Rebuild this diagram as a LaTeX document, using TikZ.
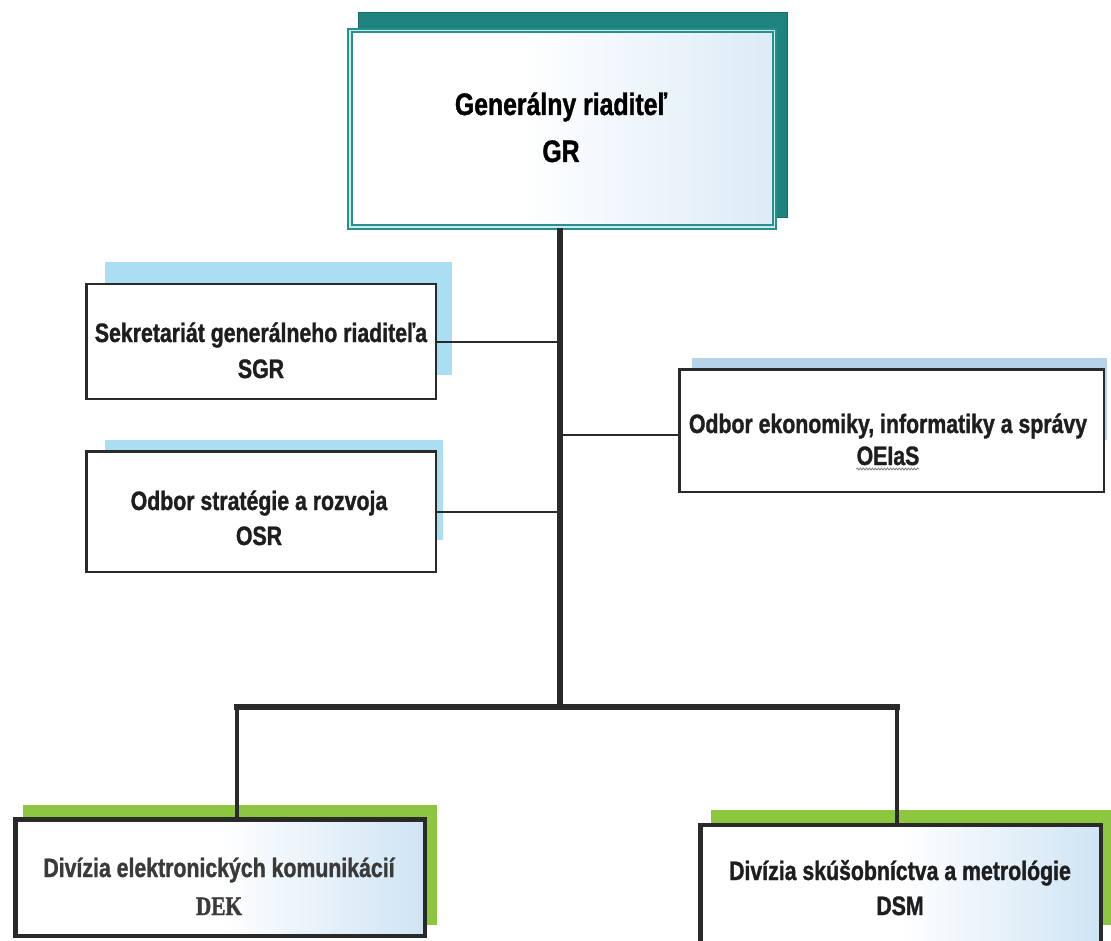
\documentclass[tikz,border=0pt]{standalone}
\usepackage{fontspec}
\setmainfont{Liberation Sans}[FakeStretch=0.8, BoldFeatures={FakeBold=1.2}]
\newfontfamily\dekfont{Liberation Serif}[FakeStretch=0.8, BoldFeatures={FakeBold=1.2}]
\usetikzlibrary{decorations.pathmorphing}
\definecolor{tealfill}{HTML}{1F847F}
\definecolor{tealline}{HTML}{2A8F8B}
\definecolor{tealgap}{HTML}{C6ECF0}
\definecolor{skyshadow}{HTML}{A9DEF3}
\definecolor{paleshadow}{HTML}{B6D3EA}
\definecolor{greenshadow}{HTML}{8DC63F}
\definecolor{boxblue}{HTML}{CFE4F4}
\definecolor{topblue}{HTML}{DCEBF6}
\definecolor{boxline}{HTML}{2A2A2A}
\definecolor{textdark}{HTML}{1E1E1E}
\definecolor{textgrey}{HTML}{3A3A3A}
\pgfdeclarehorizontalshading{boxshade}{100bp}{color(0bp)=(white); color(25bp)=(white); color(50bp)=(white); color(75bp)=(boxblue); color(100bp)=(boxblue)}
\pgfdeclarehorizontalshading{topshade}{100bp}{color(0bp)=(white); color(25bp)=(white); color(45bp)=(white); color(75bp)=(topblue); color(100bp)=(topblue)}
\tikzset{
  topbox/.style={draw=tealline, line width=2pt, double=tealgap, double distance=1.5pt,
    shade, shading=topshade, minimum width=424.5pt, minimum height=196.5pt, inner sep=0pt},
  sidebox/.style={draw=boxline, line width=2.5pt, fill=white, inner sep=0pt},
  divbox/.style={draw=boxline, line width=4.5pt, shade, shading=boxshade, inner sep=0pt},
  lbl/.style={anchor=base, inner sep=0pt, text=textdark, font=\bfseries\fontsize{26.6}{30}\selectfont},
  toplbl/.style={anchor=base, inner sep=0pt, text=black, font=\bfseries\fontsize{31}{36}\selectfont},
  divlbl/.style={anchor=base, inner sep=0pt, text=textgrey, font=\bfseries\fontsize{26.6}{30}\selectfont},
  trunk/.style={draw=boxline, line width=5.5pt},
  branch/.style={draw=boxline, line width=4.5pt},
  twig/.style={draw=boxline, line width=2pt}
}
\begin{document}
\begin{tikzpicture}[x=1pt,y=-1pt]
\useasboundingbox (0,0) rectangle (1111,941);
\clip (0,0) rectangle (1111,941);
\fill[white] (0,0) rectangle (1111,941);
% shadows
\filldraw[fill=tealfill, draw=tealfill!80!black, line width=1pt] (358,13) rectangle (787,218);
\fill[skyshadow] (105,262) rectangle (452,375);
\fill[skyshadow] (105,440) rectangle (443,540);
\fill[paleshadow] (692,358) rectangle (1107,440);
\fill[greenshadow] (23,805) rectangle (437,925);
\fill[greenshadow] (711,810) rectangle (1111,925);
% boxes
\node[topbox] (gr) at (562,129) {};
\node[sidebox, minimum width=349.5pt, minimum height=114.5pt] (sgr) at (261,341.5) {};
\node[sidebox, minimum width=349.5pt, minimum height=120.5pt] (osr) at (261,511.5) {};
\node[sidebox, minimum width=424.5pt, minimum height=122.5pt] (oe) at (891.5,430.5) {};
\node[divbox, minimum width=409.5pt, minimum height=116.5pt] (dek) at (220,877.5) {};
\node[divbox, minimum width=400.5pt, minimum height=124.75pt] (dsm) at (900.5,887.6) {};
% texts
\node[toplbl] (gr1) at (561,115) {Generálny riaditeľ};
\node[toplbl] (gr2) at (561,162) {GR};
\node[lbl] (sgr1) at (261,342) {Sekretariát generálneho riaditeľa};
\node[lbl] (sgr2) at (261,378) {SGR};
\node[lbl] (osr1) at (259,510) {Odbor stratégie a rozvoja};
\node[lbl] (osr2) at (259,545) {OSR};
\node[lbl] (oe1) at (888,433) {Odbor ekonomiky, informatiky a správy};
\node[lbl] (oe2) at (888,465) {OEIaS};
\draw[gray, line width=0.8pt, decorate, decoration={snake, amplitude=1pt, segment length=3pt}]
  ([yshift=-4pt]oe2.base west) -- ([yshift=-4pt]oe2.base east);
\node[divlbl] (dek1) at (219,877) {Divízia elektronických komunikácií};
\node[divlbl, font=\dekfont\bfseries\fontsize{26.6}{30}\selectfont] (dek2) at (219,915) {DEK};
\node[divlbl, text=textdark] (dsm1) at (900,880) {Divízia skúšobníctva a metrológie};
\node[divlbl, text=textdark] (dsm2) at (900,915) {DSM};
% connectors
\coordinate (j) at (560,707);
\coordinate (jl) at (237,707);
\coordinate (jr) at (897,707);
\draw[trunk] (gr.south -| j) -- (j);
\draw[trunk, line cap=rect] (jl) -- (jr);
\draw[branch] (jl) -- (jl |- dek.north);
\draw[branch] (jr) -- (jr |- dsm.north);
\draw[twig] (sgr.east) -- (sgr.east -| j);
\draw[twig] (osr.east) -- (osr.east -| j);
\draw[twig] ([yshift=-4.5pt]oe.west) -- ([yshift=-4.5pt]oe.west -| j);
\end{tikzpicture}
\end{document}
